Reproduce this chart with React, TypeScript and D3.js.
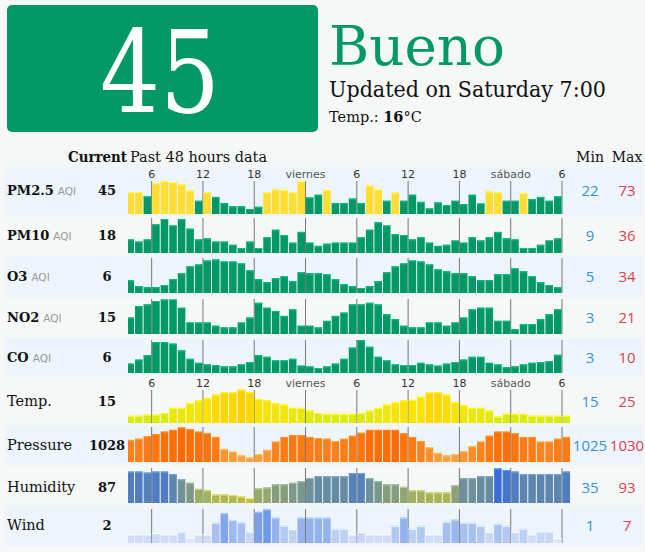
import React from 'react';
import * as d3 from 'd3';

// ---------- data ----------
const tickIndex = [3, 9, 15, 21, 27, 33, 39, 45, 51];
const tickLabels = ["6", "12", "18", "viernes", "6", "12", "18", "sábado", "6"];

const pm25 = [53,53,45,69,73,71,67,56,37,53,44,33,27,27,22,26,53,58,57,53,73,43,48,57,33,33,41,33,65,58,37,52,37,48,35,23,34,29,37,31,48,32,54,53,37,37,51,40,44,37,45];
const pm10 = [17,15,17,31,36,30,36,27,17,18,15,15,12,9,15,9,19,26,21,14,24,14,11,13,14,14,14,19,26,33,30,22,21,17,19,14,11,12,16,14,19,16,19,24,18,17,9,9,12,16,18];
const o3 = [13,7,6,6,8,14,20,27,29,33,34,32,32,30,23,14,11,15,17,12,21,20,20,19,14,9,7,5,7,12,21,27,30,33,32,29,24,22,20,20,17,13,13,19,19,25,22,17,11,8,6];
const no2 = [10,17,18,20,21,21,16,7,7,7,5,4,4,7,10,19,16,14,11,15,5,5,4,8,11,13,18,18,19,18,12,9,5,4,4,7,7,5,7,10,15,16,16,8,8,3,6,6,9,12,15];
const co = [4.1,5.1,6.2,9.5,9.5,9.1,7.4,5.3,4.3,3.9,3.7,3.4,3.4,3.9,4.5,6.2,5.8,4.9,4.9,5.3,3.6,3.4,3,3.4,4.1,5.3,8.1,10,8.3,5.8,4.9,3.9,3.7,3.7,4.3,3.9,3.6,4.1,4.5,5.1,5.8,5.8,4.3,3.9,3.2,3.4,3.9,4.3,4.5,4.7,6.3];
const temp = [15.3,15.3,15.7,15.7,16.3,18.2,18.2,20,21,21.9,23.1,24,24,25,24,21.5,21,20,19.4,18.2,18.2,17.2,16.3,16,16,16,16,16.3,17.2,18.2,19.4,20.3,21,21.2,22.3,24,24,23.1,20.3,19.3,18.2,18.2,17.2,15,16,16,16,15.3,15.3,15.3,15.3,15.3];
const pressure = [1027.9,1028.1,1028.5,1028.9,1029.3,1029.6,1030,1029.7,1029.3,1029,1028.4,1026.3,1025.9,1025.3,1025,1025.5,1026.2,1027.6,1028.4,1028.7,1028.7,1028.4,1028.2,1028.1,1027.7,1028.1,1028.6,1029.1,1029.6,1029.6,1029.6,1029.6,1029,1028.4,1027.7,1026.6,1025.7,1025.3,1025.5,1026,1026.8,1027.6,1028.6,1029.3,1029.3,1029,1028.4,1028.4,1027.6,1027.6,1028.1,1028.4];
const humidity = [87,87,85,87,87,82,72,65,53,50,42,42,41,38,35,54,56,62,62,65,68,74,78,78,78,78,84,84,74,68,62,62,57,50,50,46,46,46,60,74,74,78,78,93,90,87,82,82,82,82,82,87];
const wind = [1.8,1.8,1.8,2.1,1.8,1.8,2.4,1.1,1.8,1.8,4.2,6.2,4.8,4.3,2.4,6.5,7,5.3,3.6,2.9,5.3,5.3,5.3,5.3,3,3,1.8,2.3,1.8,1.8,1.8,3.6,5.3,3,3.6,1.8,1.8,4.4,4.9,4.2,4.2,3.6,2.3,4,3.6,2.3,3,1.8,2.4,2.4,1];

const rowNames = ["PM2.5", "PM10", "O3", "NO2", "CO", "Temp.", "Pressure", "Humidity", "Wind"];
const rowIsAqi = [true, true, true, true, true, false, false, false, false];
const currentValues = ["45", "18", "6", "15", "6", "15", "1028", "87", "2"];
const minValues = [22, 9, 5, 3, 3, 15, 1025, 35, 1];
const maxValues = [73, 36, 34, 21, 10, 25, 1030, 93, 7];
const series = [pm25, pm10, o3, no2, co, temp, pressure, humidity, wind];

// ---------- styles / layout ----------
const aqiColor = (v: number) => (v <= 50 ? "#009966" : v <= 100 ? "#ffde33" : "#ff9933");
const tempColor = d3.scaleLinear<string>().domain([15, 19, 22, 25]).range(["#d5eb16", "#eee60a", "#fde300", "#ffd000"]);
const pressureColor = d3.scaleLinear<string>().domain([1025, 1027, 1030]).range(["#ffa444", "#ff8a24", "#ff6a00"]);
const humidityColor = d3.scaleLinear<string>().domain([35, 50, 65, 80, 87, 93]).range(["#bfbd3c", "#a2b060", "#7e9a86", "#628aa8", "#4f7cc2", "#3a6fd8"]);
const windColor = d3.scaleLinear<string>().domain([1, 3, 5, 7]).range(["#dde7f8", "#bccff4", "#9ab6ef", "#6f99e8"]);
const colorFns: ((v: number) => string)[] = [aqiColor, aqiColor, aqiColor, aqiColor, aqiColor, tempColor, pressureColor, humidityColor, windColor];

const layout = [
  { bgTop: 167, bgBot: 216, barBot: 214, tickTop: 181, labelY: 195, blue: true, tickY: 178, maxH: 33, minH: 5 },
  { bgTop: 216, bgBot: 256, barBot: 253, tickTop: 218, labelY: 240, blue: false, maxH: 34, minH: 5 },
  { bgTop: 256, bgBot: 297, barBot: 293, tickTop: 258, labelY: 281, blue: true, maxH: 33.5, minH: 5 },
  { bgTop: 297, bgBot: 338, barBot: 334, tickTop: 299, labelY: 322, blue: false, maxH: 34.5, minH: 5 },
  { bgTop: 338, bgBot: 376, barBot: 373, tickTop: 340, labelY: 362, blue: true, maxH: 33, minH: 5 },
  { bgTop: 376, bgBot: 425, barBot: 423, tickTop: 390, labelY: 406, blue: false, tickY: 387, maxH: 33.5, minH: 6.5 },
  { bgTop: 425, bgBot: 465, barBot: 462, tickTop: 427, labelY: 450, blue: true, maxH: 34.5, minH: 5 },
  { bgTop: 465, bgBot: 505, barBot: 503, tickTop: 468, labelY: 492, blue: false, maxH: 34.5, minH: 5 },
  { bgTop: 505, bgBot: 546, barBot: 543, tickTop: 509, labelY: 530, blue: true, maxH: 33.5, minH: 5 },
];

const SERIF = "'DejaVu Serif', serif";
const SANS = "'DejaVu Sans', sans-serif";
const NUMSANS = "'Open Sans', 'Noto Sans', sans-serif";

const x = d3.scaleLinear().domain([0, 51]).range([126, 562]);
const step = x(1) - x(0);

export default function App() {
  return (
    <svg width={645} height={552} style={{ position: 'absolute', left: 0, top: 0, display: 'block' }}>
      <defs>
        <clipPath id="barsClip">
          <rect x={128} y={0} width={450} height={552} />
        </clipPath>
      </defs>
      <rect x={0} y={0} width={645} height={552} fill="#f6f8f8" />

      {/* header */}
      <rect x={7} y={5} width={311} height={127} rx={5} fill="#009966" />
      <text x={100} y={112} fontFamily={SERIF} fontSize={115} fill="#ffffff" textLength={120} lengthAdjust="spacingAndGlyphs">45</text>
      <text x={329} y={65} fontFamily={SERIF} fontSize={55} fill="#009966" textLength={176} lengthAdjust="spacingAndGlyphs">Bueno</text>
      <text x={329} y={97} fontFamily={SERIF} fontSize={22.5} fill="#111" textLength={277} lengthAdjust="spacingAndGlyphs">Updated on Saturday 7:00</text>
      <text x={329} y={122} fontFamily={SERIF} fontSize={14.5} fill="#111">
        Temp.: <tspan fontWeight="bold">16</tspan>°C
      </text>

      {/* table header */}
      <rect x={4} y={148} width={639} height={19} fill="#f5f7f7" />
      <text x={68} y={162} fontFamily={SERIF} fontSize={14} fontWeight="bold" fill="#111" textLength={59} lengthAdjust="spacingAndGlyphs">Current</text>
      <text x={130} y={162} fontFamily={SERIF} fontSize={14} fill="#111" textLength={137} lengthAdjust="spacingAndGlyphs">Past 48 hours data</text>
      <text x={590} y={162} fontFamily={SERIF} fontSize={14} fill="#111" textAnchor="middle">Min</text>
      <text x={627} y={162} fontFamily={SERIF} fontSize={14} fill="#111" textAnchor="middle">Max</text>

      {series.map((vals, r) => {
        const L = layout[r];
        const h = d3.scaleLinear().domain([minValues[r], maxValues[r]]).range([L.minH, L.maxH]);
        const col = colorFns[r];
        return (
          <g key={r}>
            <rect x={4} y={L.bgTop} width={639} height={L.bgBot - L.bgTop} fill={L.blue ? "#eef4fb" : "#f6f8f8"} />
            {tickIndex.map((ti, k) => (
              <line key={k} x1={x(ti)} x2={x(ti)} y1={L.tickTop} y2={L.barBot} stroke="#777" strokeWidth={1} />
            ))}
            {L.tickY !== undefined && tickIndex.map((ti, k) => (
              <text key={'t' + k} x={x(ti)} y={L.tickY} fontFamily={SANS} fontSize={11} textAnchor="middle"
                fill={k === 3 || k === 7 ? "#555" : "#333"}>{tickLabels[k]}</text>
            ))}
            <g clipPath="url(#barsClip)">
              {vals.map((v, i) => {
                const bh = h(v);
                const c = col(v);
                const top = L.barBot - bh;
                const light = d3.color(c)!.brighter(0.6).formatHex();
                return (
                  <g key={i}>
                    <rect x={x(i) + 0.5} y={top} width={step - 1} height={bh} fill={c} />
                    <rect x={x(i) + 0.5} y={top} width={step - 1} height={1.2} fill={light} />
                  </g>
                );
              })}
            </g>
            <text x={7} y={L.labelY} fontFamily={SERIF} fontSize={rowIsAqi[r] ? 13 : 14.5}
              fontWeight={rowIsAqi[r] ? "bold" : "normal"} fill="#111">
              {rowNames[r]}
              {rowIsAqi[r] && <tspan dx={4} fontFamily={SANS} fontSize={10.5} fontWeight="normal" fill="#999">AQI</tspan>}
            </text>
            <text x={107} y={L.labelY} fontFamily={SERIF} fontSize={13} fontWeight="bold" fill="#111" textAnchor="middle">{currentValues[r]}</text>
            <text x={590} y={L.labelY + 1} fontFamily={NUMSANS} fontSize={15} fill="#2f95dc" textAnchor="middle">{minValues[r]}</text>
            <text x={627} y={L.labelY + 1} fontFamily={NUMSANS} fontSize={15} fill="#d9434e" textAnchor="middle">{maxValues[r]}</text>
          </g>
        );
      })}
    </svg>
  );
}
